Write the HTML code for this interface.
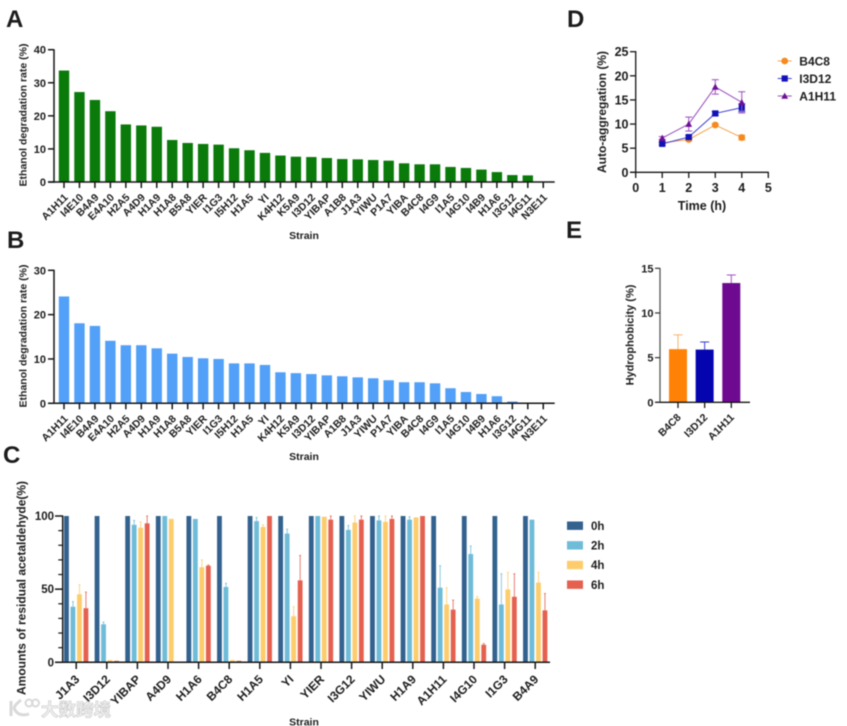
<!DOCTYPE html>
<html lang="en">
<head>
<meta charset="utf-8">
<title>Strain ethanol degradation figure</title>
<style>
html,body{margin:0;padding:0;background:#fff;}
#figure{display:block;width:847px;height:726px;filter:blur(0.45px);}
text{font-family:"Liberation Sans",Arial,sans-serif;font-weight:700;fill:#1c1c1c;}
</style>
</head>
<body>
<svg id="figure" xmlns="http://www.w3.org/2000/svg" width="847" height="726" viewBox="0 0 847 726">
  <rect x="0" y="0" width="847" height="726" fill="#ffffff"/>
  <text x="6" y="27" font-size="24">A</text>
  <text x="7" y="248" font-size="24">B</text>
  <text x="3" y="463" font-size="24">C</text>
  <text x="567" y="27" font-size="24">D</text>
  <text x="566" y="238" font-size="24">E</text>
  <g id="panelA"></g>
  <g id="panelB"></g>
  <g id="panelC"></g>
  <g id="panelD"></g>
  <g id="panelE"></g>
  <g opacity="0.8">
    <path d="M11 701 v15 M21 700 q-9 7 -6 10 q4 7 14 4" fill="none" stroke="#d0d0d0" stroke-width="3"/>
    <circle cx="29" cy="703" r="3.5" fill="none" stroke="#d0d0d0" stroke-width="2"/>
    <circle cx="35.5" cy="703" r="3.5" fill="none" stroke="#d0d0d0" stroke-width="2"/>
    <text x="41" y="716" font-size="17.5" style="font-family:'Liberation Sans','Noto Sans CJK SC',sans-serif;fill:#f0f0f0;stroke:#b8b8b8;stroke-width:0.6;">大数跨境</text>
  </g>
</svg>
<script>
// Panels A and B
const strains = ["A1H11","I4E10","B4A9","E4A10","H2A5","A4D9","H1A9","H1A8","B5A8","YIER","I1G3","I5H12","H1A5","YI","K4H12","K5A9","I3D12","YIBAP","A1B8","J1A3","YIWU","P1A7","YIBA","B4C8","I4G9","I1A5","I4G10","I4B9","H1A6","I3G12","I4G11","N3E11"];
const rateA = [33.7,27.2,24.8,21.4,17.4,17.1,16.7,12.7,11.8,11.5,11.3,10.2,9.6,8.8,8.0,7.65,7.55,7.25,6.95,6.85,6.65,6.45,5.65,5.35,5.35,4.55,4.25,3.75,3.0,2.1,2.0,0];
const rateB = [24.1,18.05,17.45,14.1,13.1,13.1,12.4,11.2,10.45,10.15,10.0,9.0,9.0,8.65,7.0,6.8,6.6,6.3,6.1,5.85,5.65,5.2,4.75,4.75,4.5,3.4,2.55,2.1,1.6,0.4,0,0];
const ticksA = [0,10,20,30,40];
const ticksB = [0,10,20,30];

// Panel C
const strainsC = ["J1A3","I3D12","YIBAP","A4D9","H1A6","B4C8","H1A5","YI","YIER","I3G12","YIWU","H1A9","A1H11","I4G10","I1G3","B4A9"];
const timesC = ["0h","2h","4h","6h"];
const residual0h = [100,100,100,100,100,100,100,100,100,100,100,100,100,100,100,100];
const residual2h = [38,26,94,100,98,51.5,96.5,88,100,90.5,97,97.5,51,74,39.5,97.5];
const residual4h = [46.5,1.5,92,98,65,1.5,92.5,31.5,99.5,95.5,96,99,39.5,43.5,49.8,54.5];
const residual6h = [37,1,95,0,66,1,100,56,97.5,97.5,98,100,36,12,44.8,35.5];
const upper0h = [100,100,100,100,100,100,100,100,100,100,100,100,100,100,100,100];
const upper2h = [41.5,27.5,97,100,98,54,99,91,100,93.5,100,99.5,66,79.5,60.5,97.5];
const upper4h = [53,1.5,96,98,70,1.5,94,38,99.5,100,100,99,51,45,61.5,61.5];
const upper6h = [48,1,100,0,66.5,1,100,73,100,100,100,100,42.5,12.8,60.5,47];
const ticksCMajor = [0,50,100];
const ticksCMinor = [10,20,30,40,60,70,80,90];

// Panel D
const hours = [1,2,3,4];
const seriesNamesD = ["B4C8","I3D12","A1H11"];
const aggB4C8 = [6.1,6.8,9.8,7.2];
const aggI3D12 = [5.9,7.3,12.2,13.4];
const aggA1H11 = [7.1,10.0,17.7,14.5];
const errB4C8 = [0.3,0.3,0.3,0.5];
const errI3D12 = [0.3,0.3,0.4,0.8];
const errA1H11 = [0.3,1.45,1.5,2.2];
const ticksDx = [0,1,2,3,4,5];
const ticksDy = [0,5,10,15,20,25];

// Panel E
const strainsE = ["B4C8","I3D12","A1H11"];
const hydrophobicity = [5.95,5.9,13.35];
const hydroError = [1.6,0.85,0.9];
const ticksE = [0,5,10,15];

const SVGNS = "http://www.w3.org/2000/svg";
const INK = "#161616";

function mk(tag, attrs, parent, content) {
  const el = document.createElementNS(SVGNS, tag);
  for (const k in attrs) el.setAttribute(k, attrs[k]);
  if (content !== undefined) el.textContent = content;
  parent.appendChild(el);
  return el;
}
function line(parent, x1, y1, x2, y2, color, width) {
  return mk("line", {x1: x1, y1: y1, x2: x2, y2: y2, stroke: color, "stroke-width": width}, parent);
}
function linearScale(d0, d1, r0, r1) {
  return function (v) { return r0 + (v - d0) / (d1 - d0) * (r1 - r0); };
}
function bandScale(first, step) {
  return function (i) { return first + i * step; };
}

function yTitle(parent, label, x, cy, size) {
  const el = mk("text", {transform: "translate(" + x + " " + cy + ") rotate(-90)", "text-anchor": "middle", "font-size": size}, parent, label);
  
  
}
function xTitle(parent, label, x, y, size) {
  const el = mk("text", {x: x, y: y, "text-anchor": "middle", "font-size": size}, parent, label);
  
  
}
function catLabel(parent, label, x, y, size) {
  const el = mk("text", {transform: "translate(" + x + " " + y + ") rotate(-45)", "text-anchor": "end", "font-size": size}, parent, label);
  
  
}
function yTickLabel(parent, label, x, y, size) {
  const el = mk("text", {x: x, y: y, "text-anchor": "end", "font-size": size}, parent, label);
  
  
}
function axisLine(parent, x1, y1, x2, y2, color, width, name) {
  const el = line(parent, x1, y1, x2, y2, color, width);
  
  
}

function rankedBarPanel(id, values, ticks, maxV, color, yTop, yBottom, titleCy, strainY) {
  const g = document.getElementById(id);
  const x = bandScale(64, 15.46);
  const y = linearScale(0, maxV, yBottom, yTop);
  values.forEach(function (v, i) {
    const bar = mk("rect", {x: x(i) - 5.2, y: y(v), width: 10.4, height: yBottom - y(v), fill: color}, g);
    
    
  });
  axisLine(g, 54, yTop - 0.5, 54, yBottom + 0.75, INK, 1.5, 'y-axis');
  axisLine(g, 48, yBottom, 554.7, yBottom, INK, 1.5, 'x-axis');
  ticks.forEach(function (t) {
    axisLine(g, 48, y(t), 54, y(t), INK, 1.5, 'y-tick');
    yTickLabel(g, String(t), 46, y(t) + 4, 11);
  });
  strains.forEach(function (s, i) {
    axisLine(g, x(i), yBottom, x(i), yBottom + 6, INK, 1.5, 'x-tick');
    catLabel(g, s, x(i) + 4.5, yBottom + 16, 10.5);
  });
  yTitle(g, "Ethanol degradation rate (%)", 26.5, titleCy, 10.5);
  xTitle(g, "Strain", 304, strainY, 10.5);
}
rankedBarPanel("panelA", rateA, ticksA, 40, "#0a7a0a", 49.7, 182, 115, 239);
rankedBarPanel("panelB", rateB, ticksB, 30, "#52a0f8", 270.3, 403.3, 336, 460);

(function panelC() {
  const g = document.getElementById("panelC");
  const colors = ["#33628f", "#6fbcd9", "#fdcc6c", "#e5604f"];
  const values = [residual0h, residual2h, residual4h, residual6h];
  const uppers = [upper0h, upper2h, upper4h, upper6h];
  const x = bandScale(76.2, 30.6);
  const y = linearScale(0, 100, 662.3, 516);
  const barStep = 6.5;
  timesC.forEach(function (name, s) {
    strainsC.forEach(function (st, i) {
      const v = values[s][i];
      const bx = x(i) + (s - 1.5) * barStep;
      if (v > 0) {
        const bar = mk("rect", {x: bx - 2.4, y: y(v), width: 4.8, height: 662.3 - y(v), fill: colors[s]}, g);
        
        
      }
      if (uppers[s][i] > v) {
        const eb = line(g, bx, y(v), bx, y(uppers[s][i]), colors[s], 0.8);
        
        
        const cap = line(g, bx - 1, y(uppers[s][i]), bx + 1, y(uppers[s][i]), colors[s], 0.8);
        
        
      }
    });
    const ly = 525.7 + s * 19.65;
    const swatch = mk("rect", {x: 567, y: ly - 4.2, width: 16, height: 8.4, fill: colors[s]}, g);
    
    
    const lab = mk("text", {x: 591, y: ly + 4.2, "font-size": 11.5}, g, name);
    
    
  });
  axisLine(g, 62.7, 515.5, 62.7, 663, INK, 1.5, 'y-axis');
  axisLine(g, 55, 662.3, 550, 662.3, INK, 1.5, 'x-axis');
  ticksCMajor.forEach(function (t) {
    axisLine(g, 55, y(t), 62.7, y(t), INK, 1.5, 'y-tick-major');
    yTickLabel(g, String(t), 54, y(t) + 4, 11.5);
  });
  ticksCMinor.forEach(function (t) {
    axisLine(g, 58.3, y(t), 62.7, y(t), INK, 1.2, 'y-tick-minor');
  });
  strainsC.forEach(function (s, i) {
    axisLine(g, x(i), 662.3, x(i), 669, INK, 1.5, 'x-tick');
    catLabel(g, s, x(i) + 4, 680, 12);
  });
  yTitle(g, "Amounts of residual acetaldehyde(%)", 25.5, 588, 12);
  xTitle(g, "Strain", 304, 725.5, 10.5);
})();

(function panelD() {
  const g = document.getElementById("panelD");
  const x = linearScale(0, 5, 635.7, 768.3);
  const y = linearScale(0, 25, 172.3, 51.7);
  const series = [aggB4C8, aggI3D12, aggA1H11];
  const errors = [errB4C8, errI3D12, errA1H11];
  const lineColors = ["#f7a24f", "#3d3dd0", "#9a4fc0"];
  const markColors = ["#f58a1f", "#1212b8", "#6c0f96"];

  function marker(parent, kind, cx, cy, color) {
    let el;
    if (kind === 0) {
      el = mk("circle", {cx: cx, cy: cy, r: 3.4, fill: color}, parent);
    } else if (kind === 1) {
      el = mk("rect", {x: cx - 3.1, y: cy - 3.1, width: 6.2, height: 6.2, fill: color}, parent);
    } else {
      el = mk("path", {d: "M" + cx + " " + (cy - 3.4) + " l3.4 6.2 h-6.8 z", fill: color}, parent);
    }
    
    
  }

  series.forEach(function (vals, s) {
    const pts = vals.map(function (v, i) { return x(hours[i]) + "," + y(v); }).join(" ");
    const pl = mk("polyline", {points: pts, fill: "none", stroke: lineColors[s], "stroke-width": 1}, g);
    
    
    vals.forEach(function (v, i) {
      const cx = x(hours[i]);
      const hi = y(v + errors[s][i]);
      const lo = y(v - errors[s][i]);
      const eb = line(g, cx, hi, cx, lo, lineColors[s], 1);
      
      
      const capTop = line(g, cx - 3.5, hi, cx + 3.5, hi, lineColors[s], 1);
      
      
      const capBottom = line(g, cx - 3.5, lo, cx + 3.5, lo, lineColors[s], 1);
      
      
    });
    vals.forEach(function (v, i) {
      marker(g, s, x(hours[i]), y(v), markColors[s]);
    });
    const ly = 61 + s * 17.5;
    const ll = line(g, 777.7, ly, 791.7, ly, lineColors[s], 1);
    
    
    marker(g, s, 784.7, ly, markColors[s]);
    const lab = mk("text", {x: 799.3, y: ly + 4.3, "font-size": 12}, g, seriesNamesD[s]);
    
    
  });

  axisLine(g, 635.7, 51, 635.7, 173, INK, 1.3, 'y-axis');
  axisLine(g, 630, 172.3, 768.8, 172.3, INK, 1.3, 'x-axis');
  ticksDy.forEach(function (t) {
    axisLine(g, 630, y(t), 635.7, y(t), INK, 1.3, 'y-tick');
    yTickLabel(g, String(t), 628.5, y(t) + 4.5, 12.5);
  });
  ticksDx.forEach(function (t) {
    axisLine(g, x(t), 172.3, x(t), 178, INK, 1.3, 'x-tick');
    const lab = mk("text", {x: x(t), y: 192, "text-anchor": "middle", "font-size": 12.5}, g, String(t));
    
    
  });
  yTitle(g, "Auto-aggregation (%)", 606, 112, 12);
  xTitle(g, "Time (h)", 702, 210, 12.5);
})();

(function panelE() {
  const g = document.getElementById("panelE");
  const x = bandScale(678, 26.65);
  const y = linearScale(0, 15, 402.3, 268.3);
  const colors = ["#ff8207", "#0505b0", "#6e0a90"];
  const errColors = ["#f9b26a", "#3a3ad0", "#a050c8"];
  hydrophobicity.forEach(function (v, i) {
    const bar = mk("rect", {x: x(i) - 9, y: y(v), width: 18, height: 402.3 - y(v), fill: colors[i]}, g);
    
    
    const hi = y(v + hydroError[i]);
    const eb = line(g, x(i), y(v), x(i), hi, errColors[i], 1);
    
    
    const cap = line(g, x(i) - 4.5, hi, x(i) + 4.5, hi, errColors[i], 1);
    
    
  });
  axisLine(g, 660, 268, 660, 403, "#555555", 1.3, 'y-axis');
  axisLine(g, 655, 402.3, 750, 402.3, INK, 1.3, 'x-axis');
  ticksE.forEach(function (t) {
    axisLine(g, 655, y(t), 660, y(t), "#333333", 1.2, 'y-tick');
    yTickLabel(g, String(t), 653.5, y(t) + 4, 11);
  });
  strainsE.forEach(function (s, i) {
    axisLine(g, x(i), 402.3, x(i), 408, INK, 1.3, 'x-tick');
    catLabel(g, s, x(i) + 3.5, 418, 10.5);
  });
  yTitle(g, "Hydrophobicity  (%)", 633.5, 335, 11);
})();
</script>
</body>
</html>
